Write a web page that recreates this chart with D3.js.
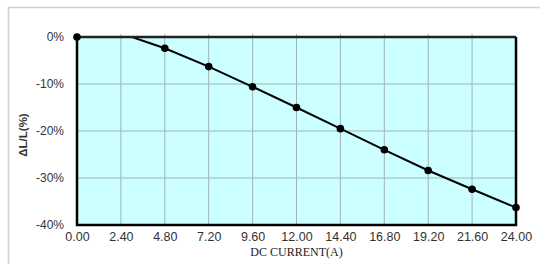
<!DOCTYPE html>
<html><head><meta charset="utf-8">
<script src="https://cdn.jsdelivr.net/npm/d3@7"></script>
<style>body{margin:0;background:#fff;}svg{display:block;}</style>
</head><body>
<script>
const currents = [0, 2.4, 4.8, 7.2, 9.6, 12.0, 14.4, 16.8, 19.2, 21.6, 24.0];
const deltaL = [0, 0.8, -2.4, -6.3, -10.6, -15.0, -19.5, -24.0, -28.4, -32.4, -36.3];
const xTicks = [0, 2.4, 4.8, 7.2, 9.6, 12.0, 14.4, 16.8, 19.2, 21.6, 24.0];
const yTicks = [0, -10, -20, -30, -40];
const xTitle = "DC CURRENT(A)";
const yTitle = "ΔL/L(%)";

const W = 540, H = 264;
const m = {left: 77, top: 37, right: 516, bottom: 225};
const svg = d3.select("body").append("svg").attr("width", W).attr("height", H);

// outer frame (top and left only)
svg.append("path").attr("d", `M8.5,${H} V7.5 H${W}`).attr("fill", "none")
  .attr("stroke", "#d0d0d0").attr("stroke-width", 1.5);

const x = d3.scaleLinear().domain([0, 24]).range([m.left, m.right]);
const y = d3.scaleLinear().domain([0, -40]).range([m.top, m.bottom]);

svg.append("rect").attr("x", m.left).attr("y", m.top)
  .attr("width", m.right - m.left).attr("height", m.bottom - m.top).attr("fill", "#ccffff");

// grid
const g = svg.append("g");
g.selectAll("line.vx").data(xTicks.slice(1, -1)).join("line")
  .attr("x1", d => x(d)).attr("x2", d => x(d)).attr("y1", m.top - 3).attr("y2", m.bottom)
  .attr("stroke", "#9fb5b5").attr("stroke-width", 1);
g.selectAll("line.hy").data(yTicks.slice(1, -1)).join("line")
  .attr("x1", m.left).attr("x2", m.right).attr("y1", d => y(d)).attr("y2", d => y(d))
  .attr("stroke", "#9fb5b5").attr("stroke-width", 1);

// clip
svg.append("clipPath").attr("id", "clip").append("rect")
  .attr("x", m.left - 6).attr("y", m.top - 0.5).attr("width", m.right - m.left + 12).attr("height", m.bottom - m.top + 6);

const data = currents.map((c, i) => ({c, v: deltaL[i]}));
const line = d3.line().x(d => x(d.c)).y(d => y(d.v));
const plot = svg.append("g").attr("clip-path", "url(#clip)");
plot.append("path").datum(data).attr("d", line).attr("fill", "none")
  .attr("stroke", "#000").attr("stroke-width", 2);

// border
svg.append("line").attr("x1", m.left).attr("x2", m.right).attr("y1", m.top).attr("y2", m.top)
  .attr("stroke", "#222").attr("stroke-width", 2.5);
svg.append("path").attr("d", `M${m.left},${m.top} V${m.bottom} H${m.right} V${m.top}`)
  .attr("fill", "none").attr("stroke", "#000").attr("stroke-width", 2.5);

// markers (only those inside domain)
svg.append("g").selectAll("circle").data(data.filter(d => d.v <= 0)).join("circle")
  .attr("cx", d => x(d.c)).attr("cy", d => y(d.v)).attr("r", 3.8).attr("fill", "#000");

// axes labels
const xAxis = d3.axisBottom(x).tickValues(xTicks).tickFormat(d3.format(".2f")).tickSize(0).tickPadding(7);
const xa = svg.append("g").attr("transform", `translate(0,${m.bottom})`).call(xAxis);
xa.select(".domain").remove();
xa.selectAll("text").attr("font-family", "Liberation Sans, Arial, sans-serif").attr("font-size", 12.5).attr("fill", "#333");

const yAxis = d3.axisLeft(y).tickValues(yTicks).tickFormat(d => d + "%").tickSize(0).tickPadding(13);
const ya = svg.append("g").attr("transform", `translate(${m.left},0)`).call(yAxis);
ya.select(".domain").remove();
ya.selectAll("text").attr("font-family", "Liberation Sans, Arial, sans-serif").attr("font-size", 12).attr("fill", "#333");

svg.append("text").attr("x", (m.left + m.right) / 2).attr("y", 256).attr("text-anchor", "middle")
  .attr("font-family", "Liberation Serif, Times New Roman, serif").attr("font-size", 12).attr("fill", "#222")
  .text(xTitle);
svg.append("text").attr("transform", `translate(27,135) rotate(-90)`).attr("text-anchor", "middle")
  .attr("font-family", "Liberation Sans, Arial, sans-serif").attr("font-size", 11.5).attr("font-weight", "bold").attr("fill", "#333")
  .text(yTitle);
</script>
</body></html>
